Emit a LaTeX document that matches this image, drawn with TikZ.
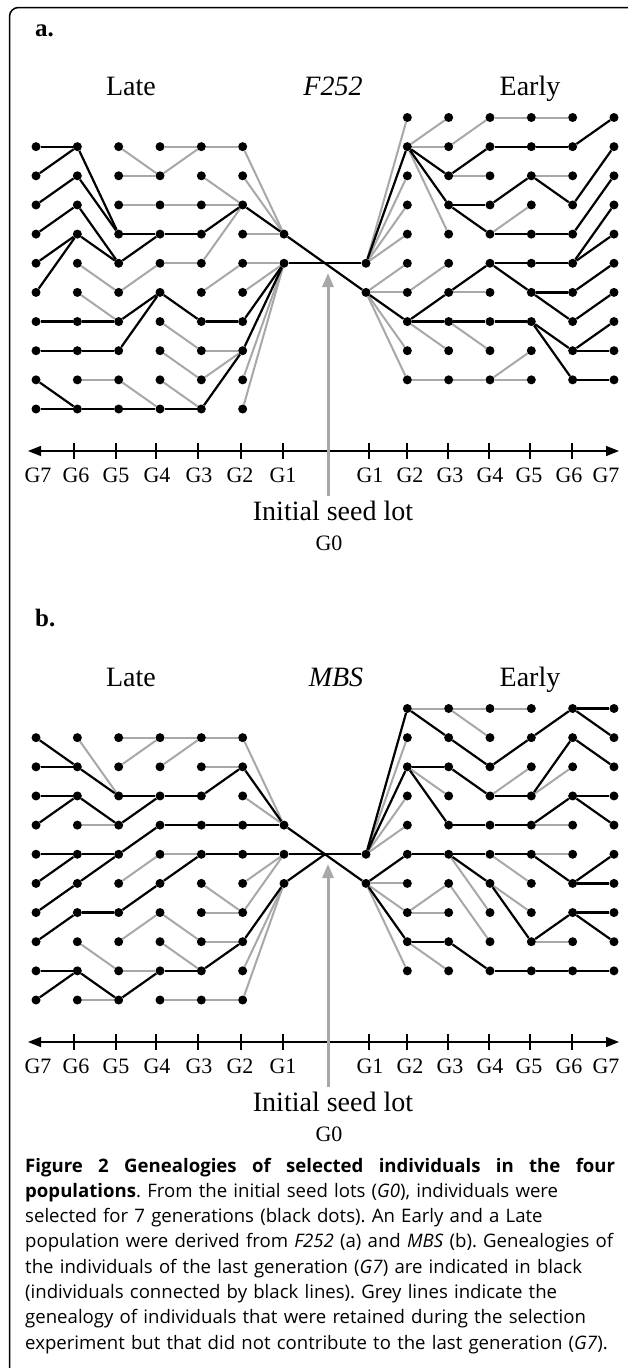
\documentclass[tikz,border=0pt]{standalone}
\usepackage{fontspec}
\setmainfont{Liberation Serif}
\newfontfamily\capfont{Open Sans}
\usetikzlibrary{arrows.meta}
\pgfdeclarelayer{back}
\pgfdeclarelayer{bg}
\pgfdeclarelayer{fg}
\pgfsetlayers{back,bg,main,fg}
\definecolor{lgrey}{gray}{0.66}
\newcommand\gedge[3]{\if#1g\begin{pgfonlayer}{bg}\draw[gline] (#2) -- (#3);\end{pgfonlayer}\else\draw[bline] (#2) -- (#3);\fi}
\begin{document}
\begin{tikzpicture}[x=1pt,y=-1pt,
  gdot/.style={circle,fill=black,inner sep=0pt,minimum size=9pt},
  gline/.style={lgrey,line width=2pt},
  bline/.style={black,line width=2.2pt},
  axisline/.style={line width=1.4pt,{Triangle[length=13pt,width=10pt]}-{Triangle[length=13pt,width=10pt]}},
  tickline/.style={line width=1.2pt},
  ttl/.style={font=\fontsize{28}{32}\selectfont,anchor=base,inner sep=0pt},
  glab/.style={font=\fontsize{22}{26}\selectfont,anchor=base,inner sep=0pt},
  plab/.style={font=\bfseries\fontsize{25}{28}\selectfont,anchor=base west,inner sep=0pt},
  seedarrow/.style={lgrey,line width=3pt,-{Triangle[length=14pt,width=11pt]}},
  frame/.style={line width=1.5pt,rounded corners=9pt}
]
\useasboundingbox (0,0) rectangle (627,1368);
\begin{pgfonlayer}{back}
\fill[white] (0,0) rectangle (627,1368);
\end{pgfonlayer}
\draw[frame] (9.5,1375) -- (9.5,7.5) -- (636,7.5) -- (636,1375);

% ================= panel a =================
\node[plab] (alab) at (35,36) {a.};
\node[ttl] (alate) at (131,95) {Late};
\node[ttl] (apop) at (333,95) {\itshape F252};
\node[ttl] (aearly) at (530,95) {Early};

\begin{pgfonlayer}{fg}
\foreach \g in {2,...,7}{
  \foreach \k in {1,...,10}{\node[gdot] (aL\g k\k) at ({284-41.33*(\g-1)},{117.5+29.15*\k}) {};}
  \foreach \k in {0,...,9}{\node[gdot] (aR\g k\k) at ({366+41.33*(\g-1)},{117.5+29.15*\k}) {};}
}
\foreach \k in {4,5}{\node[gdot] (aL1k\k) at (284,{117.5+29.15*\k}) {};}
\foreach \k in {5,6}{\node[gdot] (aR1k\k) at (366,{117.5+29.15*\k}) {};}
\end{pgfonlayer}
\coordinate (aC) at (325,{117.5+29.15*5});

\foreach \k in {4,5}{\gedge{b}{aL1k\k}{aC}}
\foreach \k in {5,6}{\gedge{b}{aR1k\k}{aC}}
\foreach \g/\lst in {
  2/{1/4/g,2/4/g,3/4/b,4/4/g,5/5/g,6/5/g,7/5/b,8/5/b,9/5/g,10/5/g},
  3/{1/1/g,2/3/g,3/3/g,4/3/b,5/3/g,6/5/g,7/7/b,8/8/g,9/8/g,10/8/b},
  4/{1/1/g,2/1/g,3/3/g,4/4/b,5/5/g,6/7/b,7/8/g,8/9/g,9/10/g,10/10/b},
  5/{1/2/g,2/2/g,3/3/g,4/4/b,5/4/b,6/5/g,7/6/b,8/6/b,9/10/g,10/10/b},
  6/{1/4/b,2/4/b,3/5/b,4/5/b,5/6/g,6/7/g,7/7/b,8/8/b,9/9/g,10/10/b},
  7/{1/1/b,2/1/b,3/2/b,4/3/b,5/4/b,6/4/b,7/7/b,8/8/b,9/10/b,10/10/b}}{
  \pgfmathtruncatemacro\pg{\g-1}
  \foreach \k/\p/\c in \lst {\gedge{\c}{aL\g k\k}{aL\pg k\p}}
}
\foreach \g/\lst in {
  2/{0/5/g,1/5/b,2/5/g,3/5/g,4/5/g,5/6/g,6/6/g,7/6/b,8/6/g,9/6/g},
  3/{0/1/g,1/1/g,2/1/b,3/1/b,4/1/g,5/6/g,6/7/b,7/7/b,8/7/g,9/9/g},
  4/{0/1/g,1/2/b,2/2/g,3/3/b,4/3/b,5/6/b,6/6/g,7/7/b,8/7/g,9/9/g},
  5/{0/0/g,1/1/b,2/3/b,3/4/g,4/4/b,5/5/b,6/5/b,7/7/b,8/9/g,9/9/g},
  6/{0/0/g,1/1/b,2/2/g,3/2/b,4/4/b,5/5/b,6/6/b,7/6/b,8/7/b,9/7/b},
  7/{0/1/b,1/3/b,2/4/b,3/5/b,4/5/b,5/6/b,6/7/b,7/8/b,8/8/b,9/9/b}}{
  \pgfmathtruncatemacro\pg{\g-1}
  \foreach \k/\p/\c in \lst {\gedge{\c}{aR\g k\k}{aR\pg k\p}}
}

\coordinate (aAxL) at (28,451);
\coordinate (aAxR) at (619,451);
\draw[axisline] (aAxL) -- (aAxR);
\foreach \x in {74,116,156,198,241,283,369,407,448,489,530,572}{\draw[tickline] (\x,443) -- (\x,459);}
\foreach \x/\t in {38/7,76/6,116/5,157/4,199/3,240/2,283/1}{\node[glab] (aGL\t) at (\x,482) {G\t};}
\foreach \x/\t in {370/1,410/2,450/3,490/4,529/5,569/6,606/7}{\node[glab] (aGR\t) at (\x,482) {G\t};}
\coordinate (aSeedB) at (328,496);
\coordinate (aSeedT) at (328,273);
\draw[seedarrow] (aSeedB) -- (aSeedT);
\node[ttl] (aseed) at (333,520) {Initial seed lot};
\node[glab] (ag0) at (329,550) {G0};

% ================= panel b =================
\node[plab] (blab) at (35,626) {b.};
\node[ttl] (blate) at (131,686) {Late};
\node[ttl] (bpop) at (336,686) {\itshape MBS};
\node[ttl] (bearly) at (530,686) {Early};

\begin{pgfonlayer}{fg}
\foreach \g in {2,...,7}{
  \foreach \k in {1,...,10}{\node[gdot] (bL\g k\k) at ({284-41.33*(\g-1)},{708.5+29.15*\k}) {};}
  \foreach \k in {0,...,9}{\node[gdot] (bR\g k\k) at ({366+41.33*(\g-1)},{708.5+29.15*\k}) {};}
}
\foreach \k in {4,5,6}{\node[gdot] (bL1k\k) at (284,{708.5+29.15*\k}) {};}
\foreach \k in {5,6}{\node[gdot] (bR1k\k) at (366,{708.5+29.15*\k}) {};}
\end{pgfonlayer}
\coordinate (bC) at (325,{708.5+29.15*5});

\foreach \k in {4,5,6}{\gedge{b}{bL1k\k}{bC}}
\foreach \k in {5,6}{\gedge{b}{bR1k\k}{bC}}
\foreach \g/\lst in {
  2/{1/4/g,2/4/b,3/4/g,4/4/b,5/5/b,6/5/g,7/5/g,8/6/b,9/6/g,10/6/g},
  3/{1/1/g,2/2/g,3/2/b,4/4/b,5/5/b,6/7/g,7/7/g,8/8/g,9/8/b,10/10/g},
  4/{1/1/g,2/1/g,3/3/b,4/4/b,5/5/g,6/5/b,7/8/g,8/9/g,9/9/b,10/10/g},
  5/{1/1/g,2/1/g,3/3/b,4/3/b,5/4/b,6/5/g,7/6/b,8/7/g,9/9/g,10/9/b},
  6/{1/3/g,2/3/b,3/4/b,4/4/g,5/5/b,6/5/b,7/7/b,8/9/g,9/10/b,10/10/g},
  7/{1/2/b,2/2/b,3/3/b,4/3/b,5/5/b,6/5/b,7/6/b,8/7/b,9/9/b,10/9/b}}{
  \pgfmathtruncatemacro\pg{\g-1}
  \foreach \k/\p/\c in \lst {\gedge{\c}{bL\g k\k}{bL\pg k\p}}
}
\foreach \g/\lst in {
  2/{0/5/b,1/5/g,2/5/b,3/5/g,4/5/g,5/6/b,6/6/g,7/6/g,8/6/b,9/6/g},
  3/{0/0/g,1/0/b,2/2/b,3/2/g,4/2/b,5/5/b,6/7/g,7/7/g,8/8/b,9/8/g},
  4/{0/0/g,1/0/g,2/1/b,3/2/b,4/4/b,5/5/b,6/5/b,7/5/g,8/6/g,9/8/b},
  5/{0/0/g,1/2/b,2/3/g,3/3/b,4/4/b,5/5/b,6/5/g,7/6/g,8/6/b,9/9/b},
  6/{0/1/b,1/3/b,2/3/g,3/4/b,4/4/g,5/5/g,6/5/b,7/8/b,8/8/g,9/9/b},
  7/{0/0/b,1/0/b,2/1/b,3/3/b,4/3/b,5/6/b,6/6/b,7/7/b,8/7/b,9/9/b}}{
  \pgfmathtruncatemacro\pg{\g-1}
  \foreach \k/\p/\c in \lst {\gedge{\c}{bR\g k\k}{bR\pg k\p}}
}

\coordinate (bAxL) at (28,1042);
\coordinate (bAxR) at (619,1042);
\draw[axisline] (bAxL) -- (bAxR);
\foreach \x in {74,116,156,198,241,283,369,407,448,489,530,572}{\draw[tickline] (\x,1034) -- (\x,1050);}
\foreach \x/\t in {38/7,76/6,116/5,157/4,199/3,240/2,283/1}{\node[glab] (bGL\t) at (\x,1073) {G\t};}
\foreach \x/\t in {370/1,410/2,450/3,490/4,529/5,569/6,606/7}{\node[glab] (bGR\t) at (\x,1073) {G\t};}
\coordinate (bSeedB) at (328,1087);
\coordinate (bSeedT) at (328,864);
\draw[seedarrow] (bSeedB) -- (bSeedT);
\node[ttl] (bseed) at (333,1111) {Initial seed lot};
\node[glab] (bg0) at (329,1141) {G0};

% ================= caption =================
\node[anchor=base west,inner sep=0pt,text width=625pt,align=left,
      font=\capfont\fontsize{18.6}{25.3}\selectfont\frenchspacing] (cap) at (25,1172) {%
\hbox to 590pt{\bfseries Figure\hfill 2\hfill Genealogies\hfill of\hfill selected\hfill individuals\hfill in\hfill the\hfill four}\\
\textbf{populations}. From the initial seed lots (\textit{G0}), individuals were\\
selected for 7 generations (black dots). An Early and a Late\\
population were derived from \textit{F252} (a) and \textit{MBS} (b). Genealogies of\\
the individuals of the last generation (\textit{G7}) are indicated in black\\
(individuals connected by black lines). Grey lines indicate the\\
genealogy of individuals that were retained during the selection\\
experiment but that did not contribute to the last generation (\textit{G7}).};
\end{tikzpicture}
\end{document}
